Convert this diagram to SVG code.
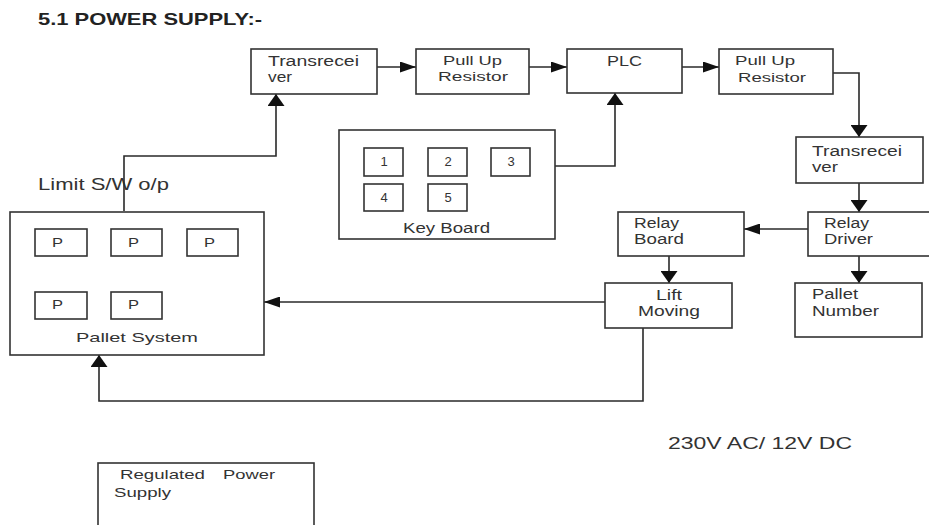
<svg xmlns="http://www.w3.org/2000/svg" width="929" height="525" viewBox="0 0 929 525">
<style>
.box{fill:#fff;stroke:#333;stroke-width:1.6}
.t{font-family:"Liberation Sans",Arial,sans-serif;font-size:14px;fill:#333}
.s{font-size:13px}
.c{stroke:#2a2a2a;stroke-width:1.6;fill:none}
</style>
<defs>
<marker id="ah" markerUnits="userSpaceOnUse" viewBox="0 0 16 11" refX="16" refY="5.5" markerWidth="16" markerHeight="11" orient="auto">
<path d="M0,0 L16,5.5 L0,11 z" fill="#111"/>
</marker>
<marker id="av" markerUnits="userSpaceOnUse" viewBox="0 0 12 17" refX="12" refY="8.5" markerWidth="12" markerHeight="17" orient="auto">
<path d="M0,0 L12,8.5 L0,17 z" fill="#111"/>
</marker>
</defs>
<rect width="929" height="525" fill="#fff"/>
<text class="t" x="38" y="25" font-weight="bold" textLength="224" lengthAdjust="spacingAndGlyphs" style="font-size:17px;fill:#222">5.1 POWER SUPPLY:-</text>
<text class="t" x="38" y="190" textLength="131" lengthAdjust="spacingAndGlyphs" style="font-size:17px">Limit S/W o/p</text>
<text class="t" x="668" y="449" textLength="184" lengthAdjust="spacingAndGlyphs" style="font-size:16px">230V AC/ 12V DC</text>

<g id="connectors">
<path class="c" d="M124,211 V156 H276 V94" marker-end="url(#av)"/>
<path class="c" d="M377,67 H416" marker-end="url(#ah)"/>
<path class="c" d="M529,67 H567" marker-end="url(#ah)"/>
<path class="c" d="M555,166 H615 V93" marker-end="url(#av)"/>
<path class="c" d="M682,67 H719" marker-end="url(#ah)"/>
<path class="c" d="M833,73 H859 V137" marker-end="url(#av)"/>
<path class="c" d="M859,183 V212" marker-end="url(#av)"/>
<path class="c" d="M808,229 H744" marker-end="url(#ah)"/>
<path class="c" d="M859,256 V283" marker-end="url(#av)"/>
<path class="c" d="M669,256 V283" marker-end="url(#av)"/>
<path class="c" d="M605,302 H264" marker-end="url(#ah)"/>
<path class="c" d="M643,328 V401 H99 V355" marker-end="url(#av)"/>
</g>

<g id="transreceiver1">
<rect class="box" x="251" y="49" width="126" height="45"/>
<text class="t" x="268" y="66" textLength="91" lengthAdjust="spacingAndGlyphs">Transrecei</text>
<text class="t" x="268" y="82" textLength="24" lengthAdjust="spacingAndGlyphs">ver</text>
</g>
<g id="pullup1">
<rect class="box" x="416" y="49" width="113" height="45"/>
<text class="t s" x="443" y="65" textLength="59" lengthAdjust="spacingAndGlyphs">Pull Up</text>
<text class="t s" x="438" y="81" textLength="70" lengthAdjust="spacingAndGlyphs">Resistor</text>
</g>
<g id="plc">
<rect class="box" x="567" y="49" width="115" height="44"/>
<text class="t" x="607" y="66" textLength="35" lengthAdjust="spacingAndGlyphs">PLC</text>
</g>
<g id="pullup2">
<rect class="box" x="719" y="49" width="114" height="45"/>
<text class="t s" x="735" y="65" textLength="60" lengthAdjust="spacingAndGlyphs">Pull Up</text>
<text class="t s" x="738" y="82" textLength="68" lengthAdjust="spacingAndGlyphs">Resistor</text>
</g>
<g id="transreceiver2">
<rect class="box" x="796" y="137" width="127" height="46"/>
<text class="t" x="812" y="156" textLength="90" lengthAdjust="spacingAndGlyphs">Transrecei</text>
<text class="t" x="812" y="172" textLength="26" lengthAdjust="spacingAndGlyphs">ver</text>
</g>
<g id="relaydriver">
<rect class="box" x="808" y="212" width="130" height="44"/>
<text class="t" x="824" y="228" textLength="45" lengthAdjust="spacingAndGlyphs">Relay</text>
<text class="t" x="824" y="244" textLength="49" lengthAdjust="spacingAndGlyphs">Driver</text>
</g>
<g id="relayboard">
<rect class="box" x="618" y="212" width="126" height="44"/>
<text class="t" x="634" y="228" textLength="45" lengthAdjust="spacingAndGlyphs">Relay</text>
<text class="t" x="634" y="244" textLength="50" lengthAdjust="spacingAndGlyphs">Board</text>
</g>
<g id="liftmoving">
<rect class="box" x="605" y="283" width="127" height="45"/>
<text class="t" x="656" y="300" textLength="26" lengthAdjust="spacingAndGlyphs">Lift</text>
<text class="t" x="638" y="316" textLength="62" lengthAdjust="spacingAndGlyphs">Moving</text>
</g>
<g id="palletnumber">
<rect class="box" x="795" y="283" width="127" height="54"/>
<text class="t" x="812" y="299" textLength="46" lengthAdjust="spacingAndGlyphs">Pallet</text>
<text class="t" x="812" y="316" textLength="67" lengthAdjust="spacingAndGlyphs">Number</text>
</g>
<g id="keyboard">
<rect class="box" x="339" y="130" width="216" height="109"/>
<rect class="box" x="364" y="148" width="39" height="28"/>
<rect class="box" x="428" y="148" width="39" height="28"/>
<rect class="box" x="491" y="148" width="39" height="28"/>
<rect class="box" x="364" y="184" width="39" height="27"/>
<rect class="box" x="428" y="184" width="39" height="27"/>
<text class="t s" x="384" y="166" text-anchor="middle">1</text>
<text class="t s" x="448" y="166" text-anchor="middle">2</text>
<text class="t s" x="511" y="166" text-anchor="middle">3</text>
<text class="t s" x="384" y="202" text-anchor="middle">4</text>
<text class="t s" x="448" y="202" text-anchor="middle">5</text>
<text class="t" x="403" y="233" textLength="87" lengthAdjust="spacingAndGlyphs">Key Board</text>
</g>
<g id="palletsystem">
<rect class="box" x="10" y="212" width="254" height="143"/>
<rect class="box" x="35" y="229" width="52" height="27"/>
<rect class="box" x="111" y="229" width="51" height="27"/>
<rect class="box" x="187" y="229" width="51" height="27"/>
<rect class="box" x="35" y="292" width="52" height="27"/>
<rect class="box" x="111" y="292" width="51" height="27"/>
<text class="t s" x="52" y="247" textLength="11" lengthAdjust="spacingAndGlyphs">P</text>
<text class="t s" x="128" y="247" textLength="11" lengthAdjust="spacingAndGlyphs">P</text>
<text class="t s" x="204" y="247" textLength="11" lengthAdjust="spacingAndGlyphs">P</text>
<text class="t s" x="52" y="309" textLength="11" lengthAdjust="spacingAndGlyphs">P</text>
<text class="t s" x="128" y="309" textLength="11" lengthAdjust="spacingAndGlyphs">P</text>
<text class="t s" x="76" y="342" textLength="122" lengthAdjust="spacingAndGlyphs">Pallet  System</text>
</g>
<g id="powersupply">
<rect class="box" x="98" y="463" width="216" height="70"/>
<text class="t s" x="120" y="479" textLength="85" lengthAdjust="spacingAndGlyphs">Regulated</text>
<text class="t s" x="223" y="479" textLength="52" lengthAdjust="spacingAndGlyphs">Power</text>
<text class="t s" x="114" y="497" textLength="57" lengthAdjust="spacingAndGlyphs">Supply</text>
</g>
</svg>
